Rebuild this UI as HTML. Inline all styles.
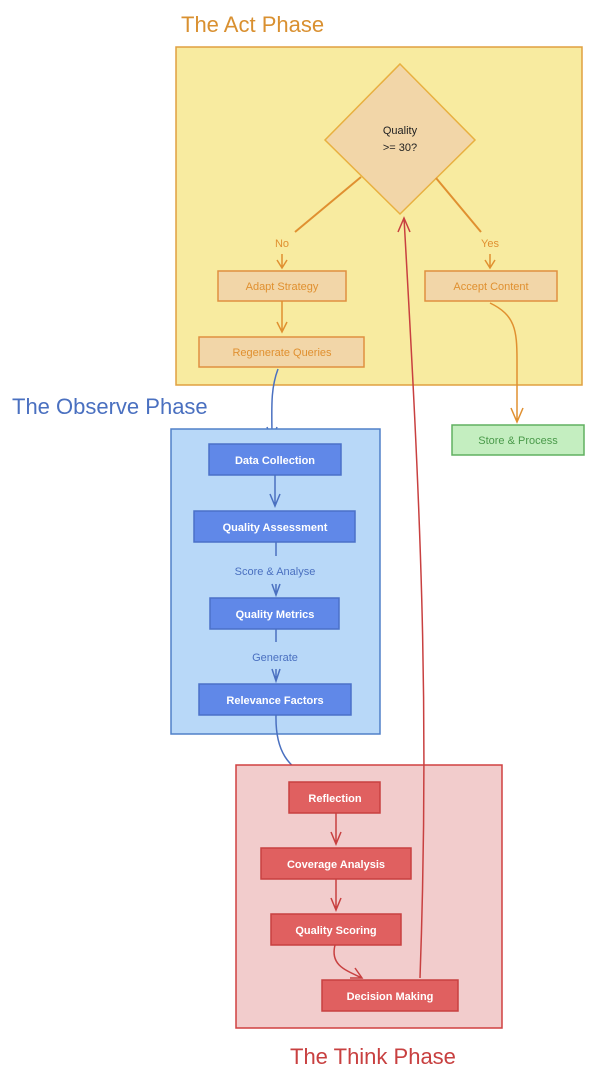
<!DOCTYPE html>
<html><head><meta charset="utf-8"><style>
html,body{margin:0;padding:0;background:#fff;width:600px;height:1084px;overflow:hidden}
svg{display:block}
text{font-family:"Liberation Sans",sans-serif}
</style></head><body>
<svg width="600" height="1084" viewBox="0 0 600 1084" xmlns="http://www.w3.org/2000/svg">
<!-- Act -->
<text x="181" y="32" font-size="22" fill="#d99030">The Act Phase</text>
<rect x="176" y="47" width="406" height="338" fill="#f8eba0" stroke="#e0a040" stroke-width="1.5"/>
<polygon points="400,64 475,140 400,214 325,140" fill="#f2d6a8" stroke="#e8b040" stroke-width="1.5"/>
<text x="400" y="134" font-size="11" text-anchor="middle" fill="#222">Quality</text>
<text x="400" y="151" font-size="11" text-anchor="middle" fill="#222">&gt;= 30?</text>
<line x1="361" y1="177" x2="295" y2="232" stroke="#e09030" stroke-width="2"/>
<text x="282" y="247" font-size="11" text-anchor="middle" fill="#e09030">No</text>
<path d="M282,254 V268 M277,260 L282,268 L287,260" stroke="#e09030" stroke-width="1.5" fill="none"/>
<line x1="436" y1="178" x2="481" y2="232" stroke="#e09030" stroke-width="2"/>
<text x="490" y="247" font-size="11" text-anchor="middle" fill="#e09030">Yes</text>
<path d="M490,254 V268 M485,260 L490,268 L495,260" stroke="#e09030" stroke-width="1.5" fill="none"/>
<rect x="218" y="271" width="128" height="30" fill="#f2d6a8" stroke="#e09040" stroke-width="1.5"/>
<text x="282" y="290" font-size="11" text-anchor="middle" fill="#e09030">Adapt Strategy</text>
<path d="M282,301 V332 M277,322 L282,332 L287,322" stroke="#e09030" stroke-width="1.5" fill="none"/>
<rect x="199" y="337" width="165" height="30" fill="#f2d6a8" stroke="#e09040" stroke-width="1.5"/>
<text x="282" y="356" font-size="11" text-anchor="middle" fill="#e09030">Regenerate Queries</text>
<rect x="425" y="271" width="132" height="30" fill="#f2d6a8" stroke="#e09040" stroke-width="1.5"/>
<text x="491" y="290" font-size="11" text-anchor="middle" fill="#e09030">Accept Content</text>
<path d="M490,303 C515,315 517,330 517,360 V422 M511,408 L517,422 L523,408" stroke="#e09030" stroke-width="1.5" fill="none"/>
<rect x="452" y="425" width="132" height="30" fill="#c4eec0" stroke="#60b060" stroke-width="1.5"/>
<text x="518" y="444" font-size="11" text-anchor="middle" fill="#4a9a4a">Store &amp; Process</text>
<!-- Observe -->
<text x="12" y="414" font-size="22" fill="#4a70c0">The Observe Phase</text>
<path d="M278,369 C270,390 272,410 272,440 M267,427 L272,440 L277,427" stroke="#4a70c0" stroke-width="1.5" fill="none"/>
<rect x="171" y="429" width="209" height="305" fill="#b8d8f8" stroke="#5080c8" stroke-width="1.5"/>
<g fill="#6088e8" stroke="#4a70c8" stroke-width="1.5">
<rect x="209" y="444" width="132" height="31"/>
<rect x="194" y="511" width="161" height="31"/>
<rect x="210" y="598" width="129" height="31"/>
<rect x="199" y="684" width="152" height="31"/>
</g>
<g font-size="11" font-weight="bold" fill="#fff" text-anchor="middle">
<text x="275" y="464">Data Collection</text>
<text x="275" y="531">Quality Assessment</text>
<text x="275" y="618">Quality Metrics</text>
<text x="275" y="704">Relevance Factors</text>
</g>
<path d="M275,475 V506 M270,494 L275,506 L280,494" stroke="#4a70c0" stroke-width="1.5" fill="none"/>
<path d="M276,542 V556 M276,584 V595 M272,584 L276,595 L280,584" stroke="#4a70c0" stroke-width="1.5" fill="none"/>
<text x="275" y="575" font-size="11" text-anchor="middle" fill="#4a70c0">Score &amp; Analyse</text>
<path d="M276,629 V642 M276,669 V681 M272,669 L276,681 L280,669" stroke="#4a70c0" stroke-width="1.5" fill="none"/>
<text x="275" y="661" font-size="11" text-anchor="middle" fill="#4a70c0">Generate</text>
<path d="M276,715 C275,760 295,768 313,782 M298,778 L313,782 L305,770" stroke="#4a70c0" stroke-width="1.5" fill="none"/>
<!-- Think -->
<rect x="236" y="765" width="266" height="263" fill="#f2cccc" stroke="#d04040" stroke-width="1.5"/>
<g fill="#e06060" stroke="#c84040" stroke-width="1.5">
<rect x="289" y="782" width="91" height="31"/>
<rect x="261" y="848" width="150" height="31"/>
<rect x="271" y="914" width="130" height="31"/>
<rect x="322" y="980" width="136" height="31"/>
</g>
<g font-size="11" font-weight="bold" fill="#fff" text-anchor="middle">
<text x="335" y="802">Reflection</text>
<text x="336" y="868">Coverage Analysis</text>
<text x="336" y="934">Quality Scoring</text>
<text x="390" y="1000">Decision Making</text>
</g>
<path d="M336,813 V844 M331,832 L336,844 L341,832" stroke="#c84040" stroke-width="1.5" fill="none"/>
<path d="M336,879 V910 M331,898 L336,910 L341,898" stroke="#c84040" stroke-width="1.5" fill="none"/>
<path d="M335,945 C330,965 345,970 362,978 M350,978 L362,978 L355,968" stroke="#c84040" stroke-width="1.5" fill="none"/>
<path d="M420,978 C430,700 420,500 404,218 M398,232 L404,218 L410,232" stroke="#c84040" stroke-width="1.5" fill="none"/>
<text x="290" y="1064" font-size="22" fill="#c84040">The Think Phase</text>
</svg>
</body></html>
